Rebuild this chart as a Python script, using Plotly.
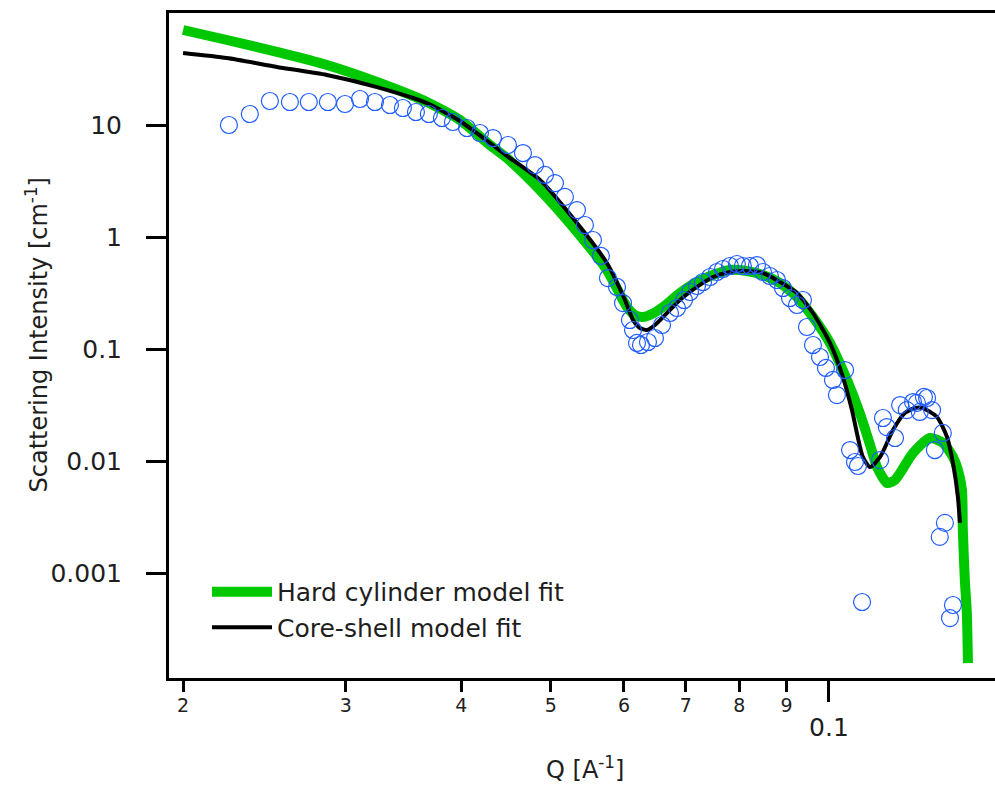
import plotly.graph_objects as go

# Measured data (Q in 1/A, intensity in 1/cm)
q_data = [0.02242, 0.02362, 0.02483, 0.0261, 0.02736, 0.02869, 0.02994, 0.03108, 0.03226, 0.03349,
          0.03459, 0.03573, 0.0369, 0.03812, 0.03918, 0.04057, 0.04191, 0.04329, 0.04494, 0.04665,
          0.04807, 0.04928, 0.05052, 0.05179, 0.05337, 0.05444, 0.05554, 0.05665, 0.05765, 0.05897,
          0.05986, 0.0609, 0.06137, 0.06198, 0.0626, 0.0637, 0.06482, 0.06597, 0.06729, 0.06848,
          0.06969, 0.07074, 0.07197, 0.07306, 0.07435, 0.07565, 0.07679, 0.07814, 0.0795, 0.0807,
          0.08213, 0.08358, 0.08484, 0.08632, 0.08785, 0.08918, 0.09075, 0.09234, 0.09373, 0.09467,
          0.09609, 0.09779, 0.09926, 0.1010, 0.1020, 0.1041, 0.1054, 0.1067, 0.1075, 0.1086,
          0.1136, 0.1144, 0.1155, 0.1179, 0.1194, 0.1214, 0.1233, 0.1245, 0.1254, 0.1267,
          0.1277, 0.1293, 0.1302, 0.1318, 0.1328, 0.1335, 0.1352, 0.1362]
i_data = [10.0, 12.54, 16.38, 16.05, 16.05, 16.05, 15.4, 17.06, 16.05, 15.09,
          14.18, 13.06, 12.54, 11.55, 10.64, 9.40, 8.48, 7.65, 6.63, 5.62,
          4.39, 3.58, 3.03, 2.28, 1.74, 1.28, 0.94, 0.677, 0.43, 0.358,
          0.257, 0.1815, 0.1478, 0.1132, 0.1086, 0.1155, 0.1254, 0.1638, 0.2096, 0.2323,
          0.2738, 0.3228, 0.365, 0.3964, 0.4394, 0.487, 0.518, 0.551, 0.574, 0.551,
          0.551, 0.562, 0.487, 0.4485, 0.4132, 0.3504, 0.2854, 0.2471, 0.2738, 0.1572,
          0.1086, 0.0848, 0.0677, 0.0529, 0.0388, 0.0649, 0.01253, 0.0098, 0.00902, 0.000551,
          0.0102, 0.0242, 0.0201, 0.01605, 0.0316, 0.0285, 0.0336, 0.033, 0.0274, 0.0373,
          0.0365, 0.0285, 0.01253, 0.0021, 0.0178, 0.0028, 0.000396, 0.000518]

q_hard = [0.02, 0.02231, 0.02527, 0.02862, 0.03242, 0.03672, 0.03987, 0.04297, 0.04482, 0.04867,
          0.05284, 0.0575, 0.06045, 0.06166, 0.06291, 0.06434, 0.06614, 0.06899, 0.07197, 0.0749,
          0.07814, 0.08153, 0.08484, 0.08851, 0.09234, 0.09609, 0.10025, 0.1046, 0.1080, 0.1108,
          0.1127, 0.1156, 0.1179, 0.1194, 0.1233, 0.1286, 0.1329, 0.1362, 0.1379, 0.1393,
          0.1396, 0.1403, 0.1410, 0.1414]
i_hard = [70.5, 57.4, 44.9, 34.3, 24.2, 16.05, 11.08, 6.63, 5.07, 2.63,
          1.228, 0.5076, 0.237, 0.201, 0.193, 0.2054, 0.237, 0.316, 0.3964, 0.4578,
          0.5076, 0.497, 0.4578, 0.3883, 0.2912, 0.193, 0.1132, 0.0529, 0.0268, 0.0139,
          0.00884, 0.00636, 0.00677, 0.00782, 0.01179, 0.01605, 0.01448, 0.01087, 0.00831, 0.00551,
          0.00242, 0.000866, 0.00044, 0.000157]

q_core = [0.02, 0.02231, 0.02527, 0.02862, 0.03242, 0.03672, 0.03987, 0.04297, 0.04482, 0.04867,
          0.05284, 0.0575, 0.06015, 0.06137, 0.06244, 0.06353, 0.06482, 0.06614, 0.06899, 0.07197,
          0.0749, 0.07814, 0.0807, 0.08484, 0.08851, 0.09234, 0.09609, 0.10025, 0.10355, 0.1059,
          0.1088, 0.1108, 0.1136, 0.1173, 0.1208, 0.1239, 0.1264, 0.1309, 0.1342, 0.1362,
          0.1379, 0.1386]
i_core = [43.9, 39.6, 33.0, 27.95, 21.8, 15.7, 10.86, 6.91, 5.29, 3.23,
          1.477, 0.586, 0.274, 0.1815, 0.154, 0.1478, 0.1638, 0.193, 0.2738, 0.358,
          0.4394, 0.487, 0.497, 0.477, 0.3964, 0.316, 0.2096, 0.1132, 0.0562, 0.0285,
          0.01087, 0.00884, 0.01087, 0.0189, 0.0268, 0.0297, 0.0297, 0.0247, 0.0164, 0.0096,
          0.00477, 0.0028]

x_minor_ticks = [0.02, 0.03, 0.04, 0.05, 0.06, 0.07, 0.08, 0.09]
x_minor_labels = ["2", "3", "4", "5", "6", "7", "8", "9"]
x_major_ticks = [0.1]
x_major_labels = ["0.1"]
y_ticks = [0.001, 0.01, 0.1, 1, 10]
y_labels = ["0.001", "0.01", "0.1", "1", "10"]

FONT = "DejaVu Sans"
TXT = "#1e1e1e"

fig = go.Figure()
fig.add_trace(go.Scatter(x=q_hard, y=i_hard, mode="lines", name="Hard cylinder model fit",
                         line=dict(color="#00c800", width=10, shape="spline", smoothing=0.6)))
fig.add_trace(go.Scatter(x=q_core, y=i_core, mode="lines", name="Core-shell model fit",
                         line=dict(color="#000000", width=4, shape="spline", smoothing=0.6)))
fig.add_trace(go.Scatter(x=q_data, y=i_data, mode="markers", showlegend=False, xaxis="x2",
                         marker=dict(symbol="circle-open", size=17, color="#1f5cff",
                                     line=dict(width=1.2, color="#1f5cff"))))

xr = [-1.7142, -0.8203]
fig.update_layout(
    width=995, height=786,
    margin=dict(l=169, r=0, t=13, b=108),
    paper_bgcolor="white", plot_bgcolor="white",
    font=dict(family=FONT, color=TXT, size=24),
    showlegend=True,
    legend=dict(x=0.046, y=0.164, xanchor="left", yanchor="top",
                bgcolor="rgba(0,0,0,0)", font=dict(size=25, family=FONT, color=TXT),
                itemwidth=60, tracegroupgap=0),
    xaxis=dict(type="log", range=xr, showgrid=False, zeroline=False,
               showline=True, linecolor="black", linewidth=3, mirror=True,
               tickmode="array", tickvals=x_minor_ticks, ticktext=x_minor_labels,
               ticks="outside", ticklen=11, tickwidth=3, tickcolor="black",
               tickfont=dict(size=19, family=FONT, color=TXT), ticklabelstandoff=-3),
    xaxis2=dict(type="log", range=xr, overlaying="x", anchor="y", side="bottom",
                showgrid=False, zeroline=False, showline=False,
                tickmode="array", tickvals=x_major_ticks, ticktext=x_major_labels,
                ticks="outside", ticklen=23, tickwidth=3, tickcolor="black",
                tickfont=dict(size=25, family=FONT, color=TXT), ticklabelstandoff=4),
    yaxis=dict(type="log", range=[-3.9375, 2.0], showgrid=False, zeroline=False,
               showline=True, linecolor="black", linewidth=3, mirror=False,
               tickmode="array", tickvals=y_ticks, ticktext=y_labels,
               ticks="outside", ticklen=20, tickwidth=3, tickcolor="black",
               tickfont=dict(size=25, family=FONT, color=TXT), ticklabelstandoff=19),
    annotations=[
        dict(text="Scattering Intensity [cm<sup>-1</sup>]", xref="paper", yref="paper",
             x=0, y=0.5, xanchor="center", yanchor="middle", xshift=-133, yshift=10,
             textangle=-90, showarrow=False, font=dict(size=24, family=FONT, color=TXT)),
        dict(text="Q [A<sup>-1</sup>]", xref="paper", yref="paper",
             x=0.5, y=0, xanchor="center", yanchor="middle", xshift=3, yshift=-90,
             showarrow=False, font=dict(size=24, family=FONT, color=TXT)),
    ],
)

fig.write_html("out.html")
